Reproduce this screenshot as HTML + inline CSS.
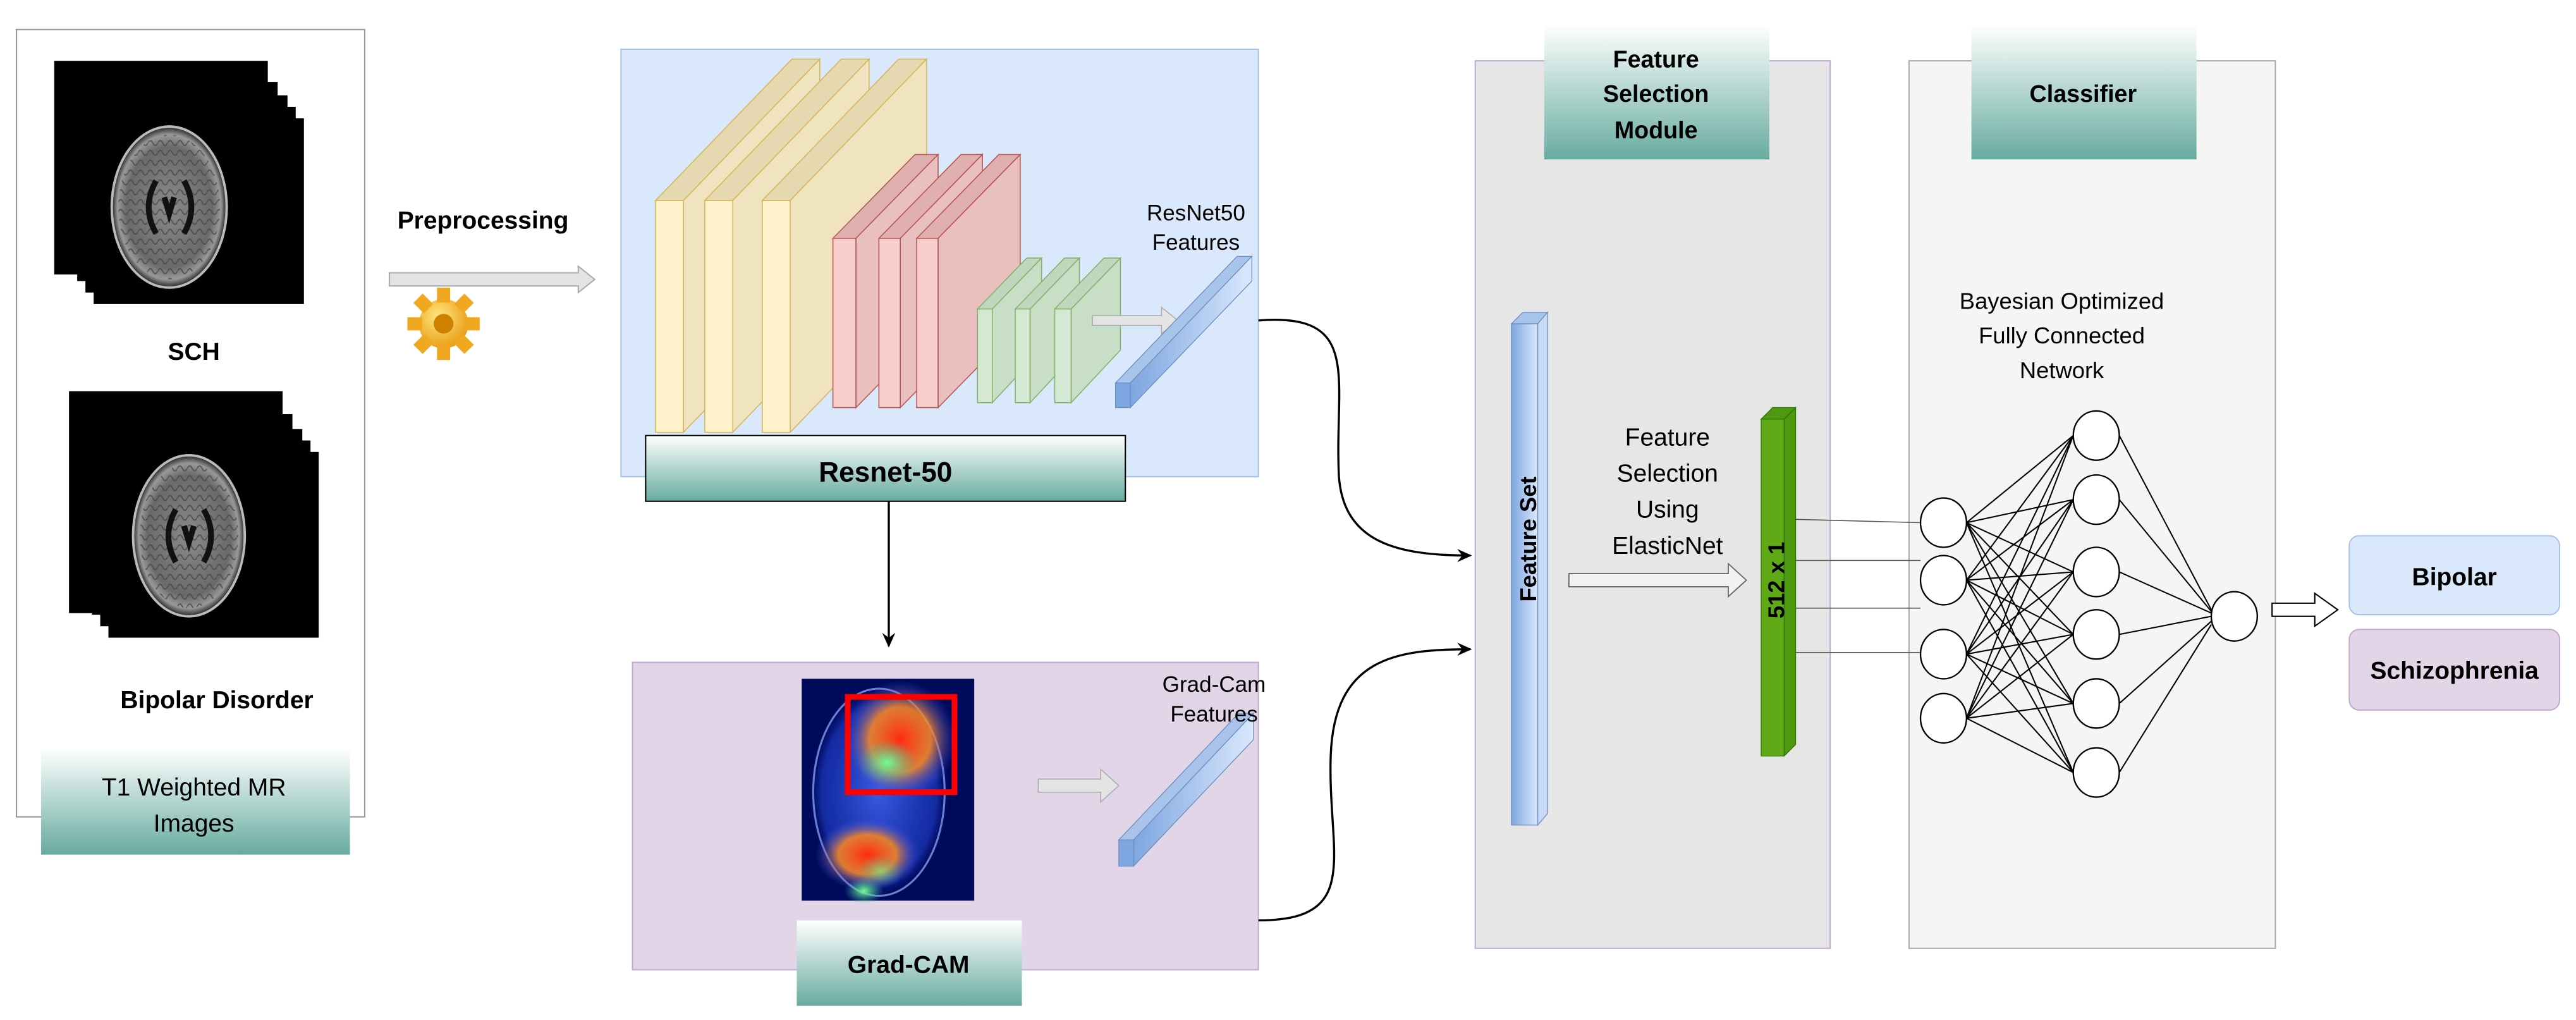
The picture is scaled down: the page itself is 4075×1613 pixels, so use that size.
<!DOCTYPE html>
<html><head><meta charset="utf-8"><style>
html,body{margin:0;padding:0;background:#fff;}
svg{display:block;}
text{font-family:"Liberation Sans",Arial,sans-serif;}
</style></head><body>
<svg width="4075" height="1613" viewBox="0 0 1568 620.6" preserveAspectRatio="none" xmlns="http://www.w3.org/2000/svg">
<defs>
<linearGradient id="teal" x1="0" y1="0" x2="0" y2="1">
<stop offset="0" stop-color="#ffffff"/><stop offset="1" stop-color="#67ab9f"/></linearGradient>
<linearGradient id="bbar" x1="0" y1="0" x2="1" y2="0">
<stop offset="0" stop-color="#7ea6e0"/><stop offset="1" stop-color="#dae8fc"/></linearGradient>
<radialGradient id="brain" cx="0.5" cy="0.5" r="0.5">
<stop offset="0" stop-color="#8a8a8a"/><stop offset="0.75" stop-color="#6a6a6a"/><stop offset="0.9" stop-color="#999"/><stop offset="1" stop-color="#222"/></radialGradient>
<pattern id="gyri" width="6" height="6" patternUnits="userSpaceOnUse"><path d="M0 3 q1.5 -3 3 0 t3 0" stroke="#444" stroke-width="0.8" fill="none"/></pattern>
<radialGradient id="hred" cx="0.5" cy="0.5" r="0.5"><stop offset="0" stop-color="#ff2a10"/><stop offset="0.55" stop-color="#ff8a20" stop-opacity="0.85"/><stop offset="1" stop-color="#3050ff" stop-opacity="0"/></radialGradient>
<radialGradient id="hgreen" cx="0.5" cy="0.5" r="0.5"><stop offset="0" stop-color="#70ff90"/><stop offset="1" stop-color="#40c0a0" stop-opacity="0"/></radialGradient>
<radialGradient id="hblue" cx="0.5" cy="0.5" r="0.5"><stop offset="0" stop-color="#3a5ae0"/><stop offset="0.8" stop-color="#2040d0" stop-opacity="0.6"/><stop offset="1" stop-color="#000060" stop-opacity="0"/></radialGradient>
<radialGradient id="gear" cx="0.4" cy="0.35" r="0.7"><stop offset="0" stop-color="#ffe680"/><stop offset="1" stop-color="#e89a10"/></radialGradient>
<marker id="ah" markerWidth="10" markerHeight="10" refX="8" refY="5" orient="auto" markerUnits="userSpaceOnUse"><path d="M0,1 L9,5 L0,9 L3,5 Z" fill="#000"/></marker>
</defs>

<rect x="10" y="18" width="212" height="479" fill="#fff" stroke="#999" stroke-width="0.8"/>
<g>
<rect x="57" y="72" width="128" height="113" fill="#000"/>
<rect x="52" y="65" width="128" height="113" fill="#000"/>
<rect x="47" y="58" width="128" height="113" fill="#000"/>
<rect x="41" y="50" width="128" height="113" fill="#000"/>
<rect x="33" y="37" width="130" height="130" fill="#000"/>
<ellipse cx="103" cy="126" rx="35" ry="49" fill="url(#brain)" stroke="#bbb" stroke-width="1.5"/>
<ellipse cx="103" cy="126" rx="31" ry="44" fill="url(#gyri)" opacity="0.7"/>
<path d="M95 110 q-9 16 0 32 M112 110 q9 16 0 32 M100 120 l3 10 l3 -10" stroke="#111" stroke-width="3.5" fill="none"/>
</g>
<text x="118" y="219" font-size="15" font-weight="bold" text-anchor="middle">SCH</text>
<g>
<rect x="66" y="275" width="128" height="113" fill="#000"/>
<rect x="61" y="268" width="128" height="113" fill="#000"/>
<rect x="56" y="261" width="128" height="113" fill="#000"/>
<rect x="50" y="252" width="128" height="113" fill="#000"/>
<rect x="42" y="238" width="130" height="135" fill="#000"/>
<ellipse cx="115" cy="326" rx="34" ry="49" fill="url(#brain)" stroke="#bbb" stroke-width="1.5"/>
<ellipse cx="115" cy="326" rx="30" ry="44" fill="url(#gyri)" opacity="0.7"/>
<path d="M107 310 q-9 16 0 32 M124 310 q9 16 0 32 M112 320 l3 10 l3 -10" stroke="#111" stroke-width="3.5" fill="none"/>
</g>
<text x="132" y="431" font-size="15" font-weight="bold" text-anchor="middle">Bipolar Disorder</text>
<rect x="25" y="455" width="188" height="65" fill="url(#teal)"/>
<text x="118" y="484" font-size="15" text-anchor="middle">T1 Weighted MR</text>
<text x="118" y="506" font-size="15" text-anchor="middle">Images</text>

<text x="294" y="139" font-size="15" font-weight="bold" text-anchor="middle">Preprocessing</text>
<path d="M237 166 L352 166 L352 162 L362 170 L352 178 L352 174 L237 174 Z" fill="#e4e4e4" stroke="#aaa" stroke-width="0.8"/>
<g transform="translate(270,197)">
<circle r="15" fill="url(#gear)"/>
<g fill="#f0a820">
<rect x="-4" y="-22" width="8" height="9"/><rect x="-4" y="13" width="8" height="9"/>
<rect x="-22" y="-4" width="9" height="8"/><rect x="13" y="-4" width="9" height="8"/>
<rect x="-4" y="-22" width="8" height="9" transform="rotate(45)"/><rect x="-4" y="13" width="8" height="9" transform="rotate(45)"/>
<rect x="-22" y="-4" width="9" height="8" transform="rotate(45)"/><rect x="13" y="-4" width="9" height="8" transform="rotate(45)"/>
</g>
<circle r="6" fill="#d08000"/>
</g>

<rect x="378" y="30" width="388" height="260" fill="#dae8fc" stroke="#a9c4eb" stroke-width="0.8"/>
<g stroke="#d6b656" stroke-width="0.6">
<g><polygon points="399,122 482,36 499,36 416,122" fill="#e6d8b0"/><polygon points="416,122 499,36 499,177 416,263" fill="#f0e4c0"/><rect x="399" y="122" width="17" height="141" fill="#fff2cc"/></g>
<g><polygon points="429,122 512,36 529,36 446,122" fill="#e6d8b0"/><polygon points="446,122 529,36 529,177 446,263" fill="#f0e4c0"/><rect x="429" y="122" width="17" height="141" fill="#fff2cc"/></g>
<g><polygon points="464,122 547,36 564,36 481,122" fill="#e6d8b0"/><polygon points="481,122 564,36 564,177 481,263" fill="#f0e4c0"/><rect x="464" y="122" width="17" height="141" fill="#fff2cc"/></g>
</g>
<g stroke="#b85450" stroke-width="0.6">
<g><polygon points="507,145 557,94 571,94 521,145" fill="#e0b0b0"/><polygon points="521,145 571,94 571,197 521,248" fill="#eabfbf"/><rect x="507" y="145" width="14" height="103" fill="#f8cecc"/></g>
<g><polygon points="535,145 585,94 598,94 548,145" fill="#e0b0b0"/><polygon points="548,145 598,94 598,197 548,248" fill="#eabfbf"/><rect x="535" y="145" width="13" height="103" fill="#f8cecc"/></g>
<g><polygon points="558,145 608,94 621,94 571,145" fill="#e0b0b0"/><polygon points="571,145 621,94 621,197 571,248" fill="#eabfbf"/><rect x="558" y="145" width="13" height="103" fill="#f8cecc"/></g>
</g>
<g stroke="#82b366" stroke-width="0.6">
<g><polygon points="595,188 625,157 634,157 604,188" fill="#bfd8bd"/><polygon points="604,188 634,157 634,213 604,245" fill="#c8dec6"/><rect x="595" y="188" width="9" height="57" fill="#d5e8d4"/></g>
<g><polygon points="618,188 648,157 657,157 627,188" fill="#bfd8bd"/><polygon points="627,188 657,157 657,213 627,245" fill="#c8dec6"/><rect x="618" y="188" width="9" height="57" fill="#d5e8d4"/></g>
<g><polygon points="642,188 672,157 682,157 652,188" fill="#bfd8bd"/><polygon points="652,188 682,157 682,213 652,245" fill="#c8dec6"/><rect x="642" y="188" width="10" height="57" fill="#d5e8d4"/></g>
</g>
<path d="M665 192 L707 192 L707 187 L717 195 L707 203 L707 198 L665 198 Z" fill="#e4e4e4" stroke="#aaa" stroke-width="0.6"/>
<g stroke="#6c8ebf" stroke-width="0.5">
<polygon points="679,233 753,156 762,156 688,233" fill="#a9c4eb"/>
<polygon points="688,233 762,156 762,171 688,248" fill="url(#bbar)"/>
<rect x="679" y="233" width="9" height="15" fill="#7ea6e0"/>
</g>
<text x="728" y="134" font-size="13.5" text-anchor="middle">ResNet50</text>
<text x="728" y="152" font-size="13.5" text-anchor="middle">Features</text>
<rect x="393" y="265" width="292" height="40" fill="url(#teal)" stroke="#000" stroke-width="0.8"/>
<text x="539" y="293" font-size="17" font-weight="bold" text-anchor="middle">Resnet-50</text>

<line x1="541" y1="305" x2="541" y2="393" stroke="#000" stroke-width="1.3" marker-end="url(#ah)"/>

<rect x="385" y="403" width="381" height="187" fill="#e1d5e7" stroke="#c3abd0" stroke-width="0.8"/>
<rect x="488" y="413" width="105" height="135" fill="#000a5a"/>
<ellipse cx="535" cy="482" rx="44" ry="66" fill="url(#hblue)"/>
<ellipse cx="535" cy="482" rx="40" ry="63" fill="none" stroke="#6a80d0" stroke-width="1.2"/>
<ellipse cx="548" cy="450" rx="34" ry="36" fill="url(#hred)"/>
<ellipse cx="540" cy="464" rx="18" ry="14" fill="url(#hgreen)"/>
<ellipse cx="528" cy="520" rx="32" ry="22" fill="url(#hred)"/>
<ellipse cx="536" cy="530" rx="14" ry="10" fill="url(#hgreen)" opacity="0.6"/>
<ellipse cx="526" cy="542" rx="12" ry="8" fill="url(#hgreen)"/>
<rect x="516" y="424" width="65" height="58" fill="none" stroke="#ff0000" stroke-width="3.5"/>
<path d="M632 474 L670 474 L670 468 L681 478 L670 488 L670 482 L632 482 Z" fill="#e4e4e4" stroke="#aaa" stroke-width="0.6"/>
<g stroke="#6c8ebf" stroke-width="0.5">
<polygon points="681,511 754,434 763,434 690,511" fill="#a9c4eb"/>
<polygon points="690,511 763,434 763,450 690,527" fill="url(#bbar)"/>
<rect x="681" y="511" width="9" height="16" fill="#7ea6e0"/>
</g>
<text x="739" y="421" font-size="13.5" text-anchor="middle">Grad-Cam</text>
<text x="739" y="439" font-size="13.5" text-anchor="middle">Features</text>
<rect x="485" y="560" width="137" height="52" fill="url(#teal)"/>
<text x="553" y="592" font-size="15" font-weight="bold" text-anchor="middle">Grad-CAM</text>

<path d="M766 195 C 830 190, 812 230, 815 290 C 818 330, 850 338, 895 338" fill="none" stroke="#000" stroke-width="1.3" marker-end="url(#ah)"/>
<path d="M766 560 C 830 560, 808 520, 810 460 C 812 400, 850 395, 895 395" fill="none" stroke="#000" stroke-width="1.3" marker-end="url(#ah)"/>

<rect x="898" y="37" width="216" height="540" fill="#e6e6e6" stroke="#c3abd0" stroke-width="0.8"/>
<rect x="940" y="15" width="137" height="82" fill="url(#teal)"/>
<text x="1008" y="41" font-size="14.5" font-weight="bold" text-anchor="middle">Feature</text>
<text x="1008" y="62" font-size="14.5" font-weight="bold" text-anchor="middle">Selection</text>
<text x="1008" y="84" font-size="14.5" font-weight="bold" text-anchor="middle">Module</text>
<g stroke="#6c8ebf" stroke-width="0.5">
<polygon points="920,197 927,190 942,190 936,197" fill="#a9c4eb"/>
<polygon points="936,197 942,190 942,495 936,502" fill="#c8daf5"/>
<rect x="920" y="197" width="16" height="305" fill="url(#bbar)"/>
</g>
<text transform="translate(935,328) rotate(-90)" font-size="14" font-weight="bold" text-anchor="middle">Feature Set</text>
<text x="1015" y="271" font-size="15" text-anchor="middle">Feature</text>
<text x="1015" y="293" font-size="15" text-anchor="middle">Selection</text>
<text x="1015" y="315" font-size="15" text-anchor="middle">Using</text>
<text x="1015" y="337" font-size="15" text-anchor="middle">ElasticNet</text>
<path d="M955 349 L1052 349 L1052 343 L1063 353 L1052 363 L1052 357 L955 357 Z" fill="#f2f2f2" stroke="#666" stroke-width="0.7"/>
<g stroke="#2d7600" stroke-width="0.5">
<polygon points="1072,255 1079,248 1093,248 1086,255" fill="#4d9a10"/>
<polygon points="1086,255 1093,248 1093,453 1086,460" fill="#4d9a10"/>
<rect x="1072" y="255" width="14" height="205" fill="#60a917"/>
</g>
<text transform="translate(1086,353) rotate(-90)" font-size="14" font-weight="bold" text-anchor="middle">512 x 1</text>

<rect x="1162" y="37" width="223" height="540" fill="#f5f5f5" stroke="#aaa" stroke-width="0.8"/>
<rect x="1200" y="15" width="137" height="82" fill="url(#teal)"/>
<text x="1268" y="62" font-size="14.5" font-weight="bold" text-anchor="middle">Classifier</text>
<text x="1255" y="188" font-size="14" text-anchor="middle">Bayesian Optimized</text>
<text x="1255" y="209" font-size="14" text-anchor="middle">Fully Connected</text>
<text x="1255" y="230" font-size="14" text-anchor="middle">Network</text>

<g stroke="#555" stroke-width="0.6">
<line x1="1093" y1="316" x2="1169" y2="318"/>
<line x1="1093" y1="341" x2="1169" y2="341"/>
<line x1="1093" y1="370" x2="1169" y2="370"/>
<line x1="1093" y1="397" x2="1169" y2="397"/>
</g>
<g stroke="#000" stroke-width="0.8">
<path d="M1197 318 L1262 265 M1197 318 L1262 304 M1197 318 L1262 348 M1197 318 L1262 386 M1197 318 L1262 428 M1197 318 L1262 470
M1197 353 L1262 265 M1197 353 L1262 304 M1197 353 L1262 348 M1197 353 L1262 386 M1197 353 L1262 428 M1197 353 L1262 470
M1197 398 L1262 265 M1197 398 L1262 304 M1197 398 L1262 348 M1197 398 L1262 386 M1197 398 L1262 428 M1197 398 L1262 470
M1197 437 L1262 265 M1197 437 L1262 304 M1197 437 L1262 348 M1197 437 L1262 386 M1197 437 L1262 428 M1197 437 L1262 470"/>
<path d="M1290 265 L1346 371 M1290 304 L1346 372 M1290 348 L1346 373 M1290 386 L1346 375 M1290 428 L1346 378 M1290 470 L1346 380"/>
</g>
<g fill="#fff" stroke="#000" stroke-width="0.9">
<ellipse cx="1183" cy="318" rx="14" ry="15"/>
<ellipse cx="1183" cy="353" rx="14" ry="15"/>
<ellipse cx="1183" cy="398" rx="14" ry="15"/>
<ellipse cx="1183" cy="437" rx="14" ry="15"/>
<ellipse cx="1276" cy="265" rx="14" ry="15"/>
<ellipse cx="1276" cy="304" rx="14" ry="15"/>
<ellipse cx="1276" cy="348" rx="14" ry="15"/>
<ellipse cx="1276" cy="386" rx="14" ry="15"/>
<ellipse cx="1276" cy="428" rx="14" ry="15"/>
<ellipse cx="1276" cy="470" rx="14" ry="15"/>
<ellipse cx="1360" cy="375" rx="14" ry="15"/>
</g>
<path d="M1383 367 L1409 367 L1409 361 L1423 371 L1409 381 L1409 375 L1383 375 Z" fill="#fff" stroke="#000" stroke-width="0.8"/>

<rect x="1430" y="326" width="128" height="48" rx="6" fill="#dae8fc" stroke="#a9c4eb" stroke-width="0.8"/>
<text x="1494" y="356" font-size="15" font-weight="bold" text-anchor="middle">Bipolar</text>
<rect x="1430" y="383" width="128" height="49" rx="6" fill="#e1d5e7" stroke="#c3abd0" stroke-width="0.8"/>
<text x="1494" y="413" font-size="15" font-weight="bold" text-anchor="middle">Schizophrenia</text>
</svg>
</body></html>
